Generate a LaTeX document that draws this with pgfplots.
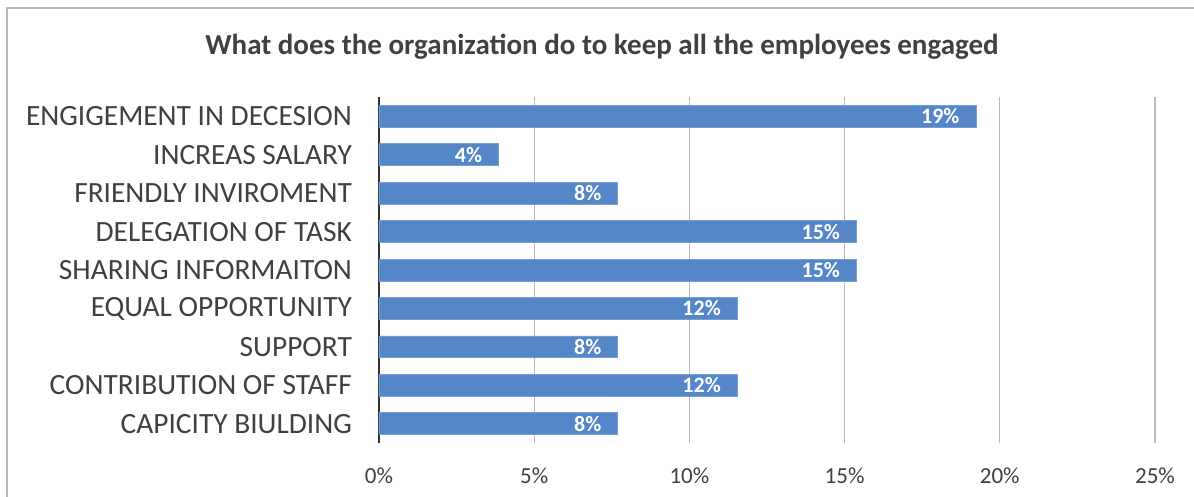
\documentclass[border=0pt]{standalone}
\usepackage{pgfplots}
\pgfplotsset{compat=1.18}
\usepackage{fontspec}
\setmainfont{Carlito}
\definecolor{barblue}{RGB}{84,134,200}
\definecolor{txt}{RGB}{64,64,64}
\definecolor{gridc}{RGB}{185,185,185}
\begin{document}
\begin{tikzpicture}
\useasboundingbox (0,0) rectangle (597pt,-248.5pt);
\fill[white] (0,0) rectangle (597pt,-248.5pt);
\draw[gray!55, line width=0.9pt] (3.5pt,-4pt) rectangle (605pt,-260pt);
\node[font=\bfseries\fontsize{14.5}{16}\selectfont, text=txt] at (301pt,-23.5pt) {What does the organization do to keep all the employees engaged};
\begin{axis}[
  at={(189.5pt,-221.5pt)}, anchor=south west,
  scale only axis, width=388pt, height=173pt,
  xbar, bar width=0.57, bar shift=0pt,
  xmin=0, xmax=25, ymin=-0.5, ymax=8.5, y dir=reverse,
  xtick={0,5,10,15,20,25},
  xticklabels={0\%,5\%,10\%,15\%,20\%,25\%},
  ytick={0,...,8},
  yticklabels={ENGIGEMENT IN DECESION, INCREAS SALARY, FRIENDLY INVIROMENT, DELEGATION OF TASK, SHARING INFORMAITON, EQUAL OPPORTUNITY, SUPPORT, CONTRIBUTION OF STAFF, CAPICITY BIULDING},
  xmajorgrids, major grid style={gridc, line width=0.6pt},
  major tick length=0pt,
  axis x line*=bottom, axis y line*=left,
  x axis line style={draw=none},
  y axis line style={draw=black!80, line width=1.1pt},
  xticklabel style={font=\fontsize{11.5}{13}\selectfont, text=txt, yshift=-9pt},
  yticklabel style={font=\fontsize{14.7}{16}\selectfont, text=txt, xshift=-10pt},
  nodes near coords={\pgfmathprintnumber[fixed,precision=0,assume math mode=true]{\pgfplotspointmeta}\%},
  every node near coord/.append style={font=\bfseries\fontsize{11}{12}\selectfont, text=white, anchor=east, inner sep=0pt, xshift=-8pt},
  clip=false,
]
\addplot[fill=barblue, draw=barblue!80!white, line width=0.4pt] coordinates {
 (19.23,0) (3.85,1) (7.69,2) (15.38,3) (15.38,4) (11.54,5) (7.69,6) (11.54,7) (7.69,8)
};
\end{axis}
\end{tikzpicture}
\end{document}
